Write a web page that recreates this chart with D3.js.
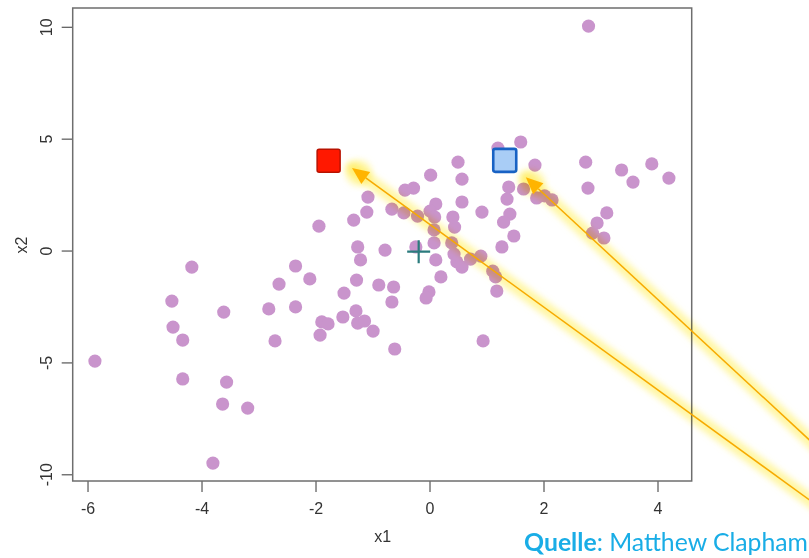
<!DOCTYPE html>
<html lang="en">
<head>
<meta charset="UTF-8" />
<title>x1 / x2 Streudiagramm</title>
<style>
  body { margin: 0; background: #fff; }
  svg { display: block; }
  .tick text { font-family: "Liberation Sans", Arial, sans-serif; font-size: 16px; fill: #333; }
  .tick line { stroke: #555; stroke-width: 1.2; }
</style>
</head>
<body>
<svg width="809" height="558"></svg>
<script src="https://cdn.jsdelivr.net/npm/d3@7"></script>
<script>
const x1Values = [2.79,1.60,1.20,0.50,1.85,2.74,3.37,3.90,4.20,3.57,
  2.78,0.02,0.57,1.39,1.65,1.36,1.88,2.02,2.15,3.11,
  2.94,2.86,3.06,-0.43,-0.28,-1.08,0.57,0.11,-0.66,-0.45,
  -1.10,-1.33,-1.94,-0.21,0.01,0.09,0.41,0.44,0.92,0.08,
  0.08,-0.24,-1.26,-0.78,-1.21,0.11,0.39,0.43,0.48,0.57,
  0.72,0.90,1.11,1.16,1.41,1.30,1.48,1.27,-2.35,-2.10,
  -1.28,-0.89,-0.63,0.20,-0.01,-0.06,-1.50,1.18,0.94,-4.17,
  -2.64,-2.35,-0.66,-1.89,-1.78,-1.92,-1.52,-1.29,-1.26,-1.14,
  -0.99,-0.61,-4.52,-3.61,-2.82,-4.50,-4.33,-2.71,-5.87,-4.33,
  -3.56,-3.63,-3.19,-3.80];
const x2Values = [10.03,4.85,4.58,3.95,3.82,3.95,3.60,3.87,3.24,3.06,
  2.79,3.37,3.19,2.84,2.75,2.30,2.35,2.44,2.26,1.68,
  1.23,0.78,0.56,2.70,2.79,2.39,2.17,2.08,1.85,1.68,
  1.72,1.36,1.09,1.54,1.76,1.50,1.50,1.05,1.72,0.92,
  0.34,0.16,0.16,0.02,-0.42,-0.42,0.34,-0.16,-0.51,-0.74,
  -0.38,-0.25,-0.92,-1.18,1.63,1.27,0.65,0.16,-0.69,-1.27,
  -1.32,-1.54,-1.63,-1.18,-1.85,-2.12,-1.90,-1.81,-4.04,-0.74,
  -1.50,-2.52,-2.30,-3.19,-3.28,-3.78,-2.97,-2.70,-3.24,-3.15,
  -3.60,-4.40,-2.26,-2.75,-2.61,-3.42,-4.00,-4.04,-4.94,-5.74,
  -5.88,-6.86,-7.04,-9.50];

// the two starting centres (red, blue) and the overall mean
const centreX1 = [-1.77, 1.32];
const centreX2 = [4.01, 4.03];
const meanX1 = -0.19;
const meanX2 = -0.05;

// arrows: tip near a centre, tail off the right edge
const arrowTipX1 = [-1.36, 1.69];
const arrowTipX2 = [3.69, 3.28];
const arrowTailX1 = [7.03, 7.03];
const arrowTailX2 = [-11.82, -9.33];

const xTicks = [-6, -4, -2, 0, 2, 4];
const yTicks = [-10, -5, 0, 5, 10];

const svg = d3.select('svg');
const pLeft = 72.7, pRight = 691.7, pTop = 8, pBottom = 481;

const x = d3.scaleLinear().domain([-6.26, 4.6]).range([pLeft, pRight]);
const y = d3.scaleLinear().domain([-10.3, 10.84]).range([pBottom, pTop]);
const fmt = d => String(d); // plain hyphen, as in the R plot

const defs = svg.append('defs');
defs.append('filter').attr('id', 'glow')
  .attr('x', '-20%').attr('y', '-20%').attr('width', '140%').attr('height', '140%')
  .append('feGaussianBlur').attr('stdDeviation', 3.2);

// axes
svg.append('g')
  .attr('transform', `translate(0,${pBottom})`)
  .call(d3.axisBottom(x).tickValues(xTicks).tickSize(11).tickPadding(11).tickFormat(fmt))
  .call(g => g.select('.domain').remove());

svg.append('g')
  .attr('transform', `translate(${pLeft},0)`)
  .call(d3.axisLeft(y).tickValues(yTicks).tickSize(11).tickFormat(fmt))
  .call(g => g.select('.domain').remove())
  .call(g => g.selectAll('text')
    .attr('x', 0).attr('y', 0).attr('dy', 0)
    .attr('text-anchor', 'middle')
    .attr('transform', 'translate(-20.7,0) rotate(-90)'));

svg.append('text')
  .attr('x', (pLeft + pRight) / 2 + 0.5).attr('y', 541.5)
  .attr('text-anchor', 'middle')
  .attr('font-family', '"Liberation Sans", Arial, sans-serif')
  .attr('font-size', 16).attr('fill', '#333')
  .text('x1');

svg.append('text')
  .attr('text-anchor', 'middle')
  .attr('transform', `translate(27,${(pTop + pBottom) / 2 + 0.5}) rotate(-90)`)
  .attr('font-family', '"Liberation Sans", Arial, sans-serif')
  .attr('font-size', 16).attr('fill', '#333')
  .text('x2');

svg.append('rect')
  .attr('x', pLeft).attr('y', pTop)
  .attr('width', pRight - pLeft).attr('height', pBottom - pTop)
  .attr('fill', 'none').attr('stroke', '#6e6e6e').attr('stroke-width', 1.5);

// points
svg.append('g')
  .selectAll('circle')
  .data(x1Values.map((v, i) => [v, x2Values[i]]))
  .enter()
  .append('circle')
  .attr('cx', d => x(d[0]))
  .attr('cy', d => y(d[1]))
  .attr('r', 6.6)
  .attr('fill', '#c994cc');

// centres
const centreFill = ['#ff1800', '#a9cdf6'];
const centreStroke = ['#b81200', '#1862c4'];
const centreWidth = [1.5, 2.6];
svg.append('g')
  .selectAll('rect')
  .data(centreX1.map((v, i) => [v, centreX2[i], i]))
  .enter()
  .append('rect')
  .attr('x', d => x(d[0]) - 11.5)
  .attr('y', d => y(d[1]) - 11.5)
  .attr('width', 23).attr('height', 23)
  .attr('rx', 2)
  .attr('fill', d => centreFill[d[2]])
  .attr('stroke', d => centreStroke[d[2]])
  .attr('stroke-width', d => centreWidth[d[2]]);

// mean cross
const mx = x(meanX1), my = y(meanX2);
svg.append('path')
  .attr('d', `M${mx - 11.5},${my}H${mx + 11.5}M${mx},${my - 11.5}V${my + 11.5}`)
  .attr('stroke', '#2b7b7d').attr('stroke-width', 2.2).attr('fill', 'none');

// arrows
const arrows = arrowTipX1.map((v, i) => {
  const tx = x(v), ty = y(arrowTipX2[i]);
  const sx = x(arrowTailX1[i]), sy = y(arrowTailX2[i]);
  const len = Math.hypot(sx - tx, sy - ty);
  const ux = (sx - tx) / len, uy = (sy - ty) / len;
  const hl = 17, hw = 7.5;
  const bx = tx + ux * hl, by = ty + uy * hl;
  const head = [[tx, ty], [bx - uy * hw, by + ux * hw], [bx + uy * hw, by - ux * hw]];
  return { tx, ty, sx, sy, bx, by, head };
});

const ag = svg.append('g');
ag.selectAll('.glow')
  .data(arrows).enter()
  .append('path')
  .attr('d', a => `M${a.sx},${a.sy}L${a.tx},${a.ty}`)
  .attr('stroke', '#fff37e').attr('stroke-width', 13)
  .attr('stroke-linecap', 'round')
  .attr('fill', 'none').attr('opacity', 0.7)
  .style('mix-blend-mode', 'multiply')
  .attr('filter', 'url(#glow)');
ag.selectAll('.headglow')
  .data(arrows).enter()
  .append('circle')
  .attr('cx', a => (a.tx + a.bx) / 2).attr('cy', a => (a.ty + a.by) / 2)
  .attr('r', 13).attr('fill', '#fff37e').attr('opacity', 0.6)
  .style('mix-blend-mode', 'multiply')
  .attr('filter', 'url(#glow)');
ag.selectAll('.line')
  .data(arrows).enter()
  .append('path')
  .attr('d', a => `M${a.sx},${a.sy}L${a.bx},${a.by}`)
  .attr('stroke', '#f7aa00').attr('stroke-width', 1.5).attr('fill', 'none');
ag.selectAll('.head')
  .data(arrows).enter()
  .append('path')
  .attr('d', a => 'M' + a.head.map(p => p.join(',')).join('L') + 'Z')
  .attr('fill', '#ffb400');

// source
const src = svg.append('text')
  .attr('x', 808).attr('y', 551)
  .attr('text-anchor', 'end')
  .attr('font-family', 'Lato, "Open Sans", sans-serif')
  .attr('font-size', 21)
  .attr('fill', '#19ade6');
src.append('tspan').attr('font-weight', 'bold').text('Quelle');
src.append('tspan').text(': Matthew Clapham');
const w = src.node().getComputedTextLength();
src.attr('font-size', 21 * 284 / w);
</script>
</body>
</html>
